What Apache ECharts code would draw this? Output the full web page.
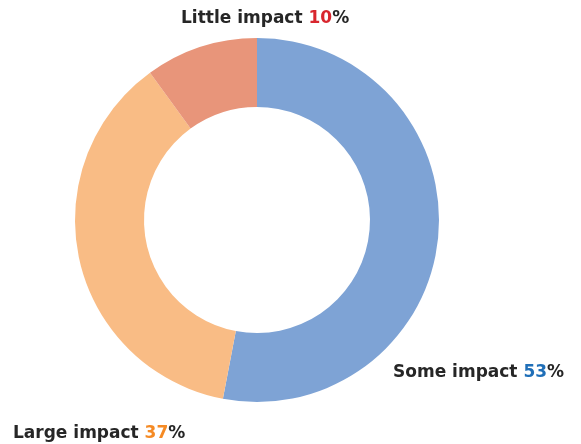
<!DOCTYPE html>
<html>
<head>
<meta charset="utf-8">
<script src="https://cdn.jsdelivr.net/npm/echarts@6/dist/echarts.min.js"></script>
<style>
  html, body { margin: 0; padding: 0; background: #fff; }
  #chart { width: 581px; height: 444px; }
</style>
</head>
<body>
<div id="chart"></div>
<script>
// data
let categories = ['Some impact', 'Large impact', 'Little impact'];
let values = [53, 37, 10];
let sliceColors = ['#7EA3D5', '#F9BC85', '#E8957A'];
let numberColors = ['#1F6FB8', '#F58A24', '#D8262E'];

// where each label sits (left edge / vertical centre)
let labelSpots = [[393, 373], [13, 434], [181, 19]];

let font = 'DejaVu Sans';
let fs = 17;
let myChart = echarts.init(document.getElementById('chart'));

myChart.setOption({
  backgroundColor: '#ffffff',
  animation: false,
  series: [
    {
      type: 'pie',
      center: [257, 220],
      radius: [113, 182],
      startAngle: 90,
      clockwise: true,
      silent: true,
      itemStyle: { borderWidth: 0 },
      labelLine: { show: false },
      label: {
        show: true,
        position: 'outside',
        overflow: 'none',
        width: 250,
        formatter: function (p) {
          return '{n|' + p.name + ' }{v' + p.dataIndex + '|' + p.value + '}{p|%}';
        },
        rich: {
          n: { fontFamily: font, fontSize: fs, fontWeight: 'bold', color: '#262626' },
          v0: { fontFamily: font, fontSize: fs, fontWeight: 'bold', color: numberColors[0] },
          v1: { fontFamily: font, fontSize: fs, fontWeight: 'bold', color: numberColors[1] },
          v2: { fontFamily: font, fontSize: fs, fontWeight: 'bold', color: numberColors[2] },
          p: { fontFamily: font, fontSize: fs, fontWeight: 'bold', color: '#262626' }
        }
      },
      labelLayout: function (params) {
        let spot = labelSpots[params.dataIndex];
        return {
          x: spot[0],
          y: spot[1],
          align: 'left',
          verticalAlign: 'middle'
        };
      },
      data: categories.map(function (name, i) {
        return { name: name, value: values[i], itemStyle: { color: sliceColors[i] } };
      })
    }
  ]
});
</script>
</body>
</html>
